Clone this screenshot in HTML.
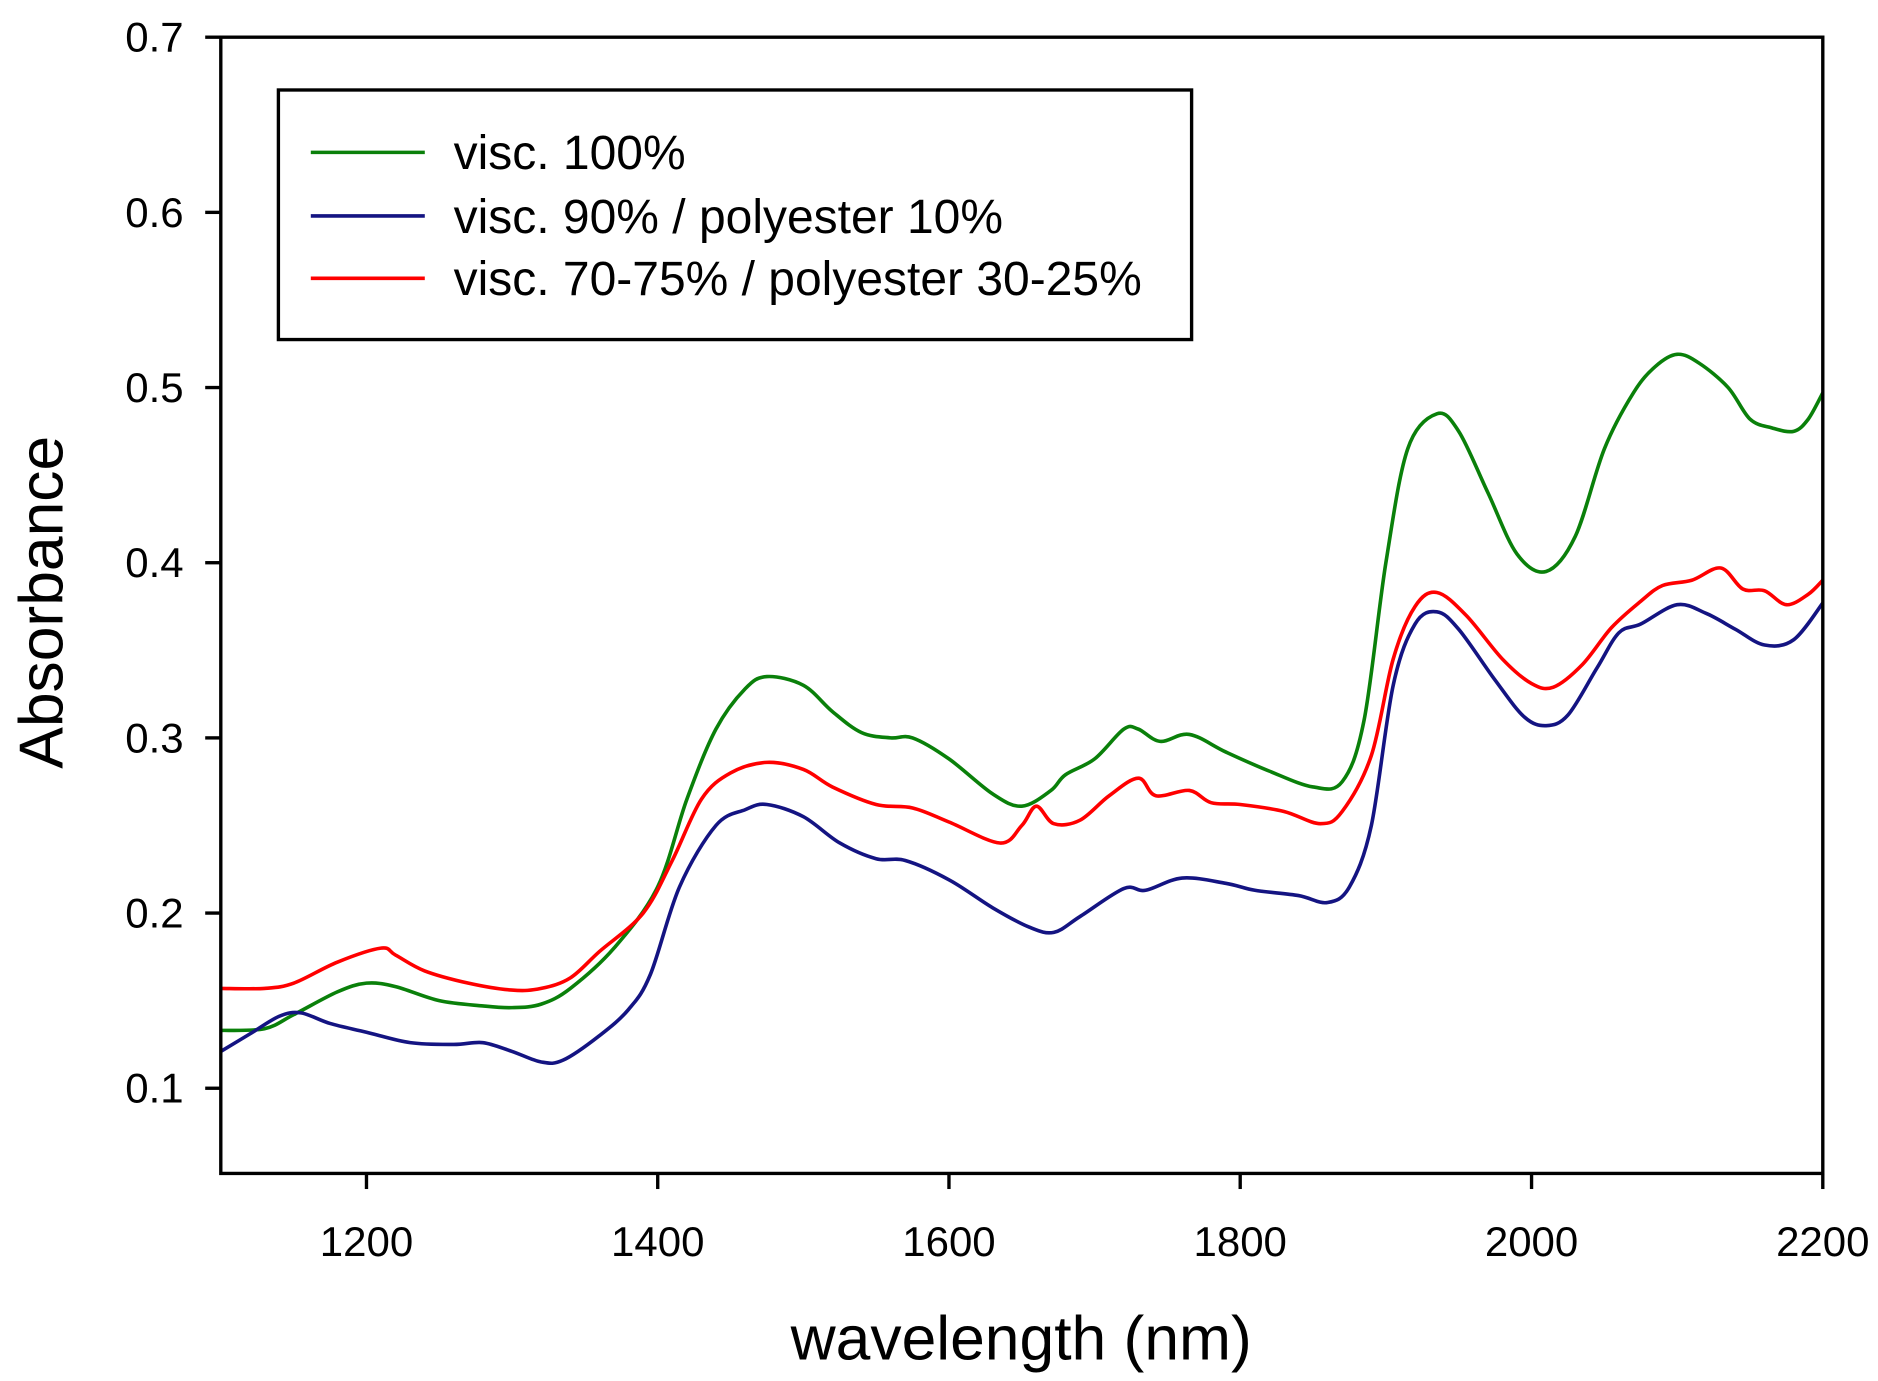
<!DOCTYPE html>
<html><head><meta charset="utf-8"><style>
html,body{margin:0;padding:0;background:#fff;}
svg{display:block;}
text{font-family:"Liberation Sans",Arial,sans-serif;fill:#000;}
</style></head><body>
<svg id="s" width="1878" height="1381" viewBox="0 0 1565 1151" preserveAspectRatio="none" xmlns="http://www.w3.org/2000/svg">
<rect x="0" y="0" width="1565" height="1151" fill="#fff"/>
<g id="curves" fill="none" stroke-width="3" stroke-linejoin="round"></g>
<rect x="184" y="31" width="1335" height="947" fill="none" stroke="#000" stroke-width="2.8"/>
<g stroke="#000" stroke-width="2.8">
<line x1="171" y1="31" x2="184" y2="31"/><line x1="171" y1="177" x2="184" y2="177"/>
<line x1="171" y1="323" x2="184" y2="323"/><line x1="171" y1="469" x2="184" y2="469"/>
<line x1="171" y1="615" x2="184" y2="615"/><line x1="171" y1="761" x2="184" y2="761"/>
<line x1="171" y1="907" x2="184" y2="907"/>
<line x1="305.4" y1="978" x2="305.4" y2="991"/><line x1="548.1" y1="978" x2="548.1" y2="991"/>
<line x1="790.8" y1="978" x2="790.8" y2="991"/><line x1="1033.5" y1="978" x2="1033.5" y2="991"/>
<line x1="1276.3" y1="978" x2="1276.3" y2="991"/><line x1="1519" y1="978" x2="1519" y2="991"/>
</g>
<g font-size="35" text-anchor="end">
<text x="153" y="43">0.7</text><text x="153" y="189">0.6</text><text x="153" y="335">0.5</text>
<text x="153" y="481">0.4</text><text x="153" y="627">0.3</text><text x="153" y="773">0.2</text>
<text x="153" y="919">0.1</text>
</g>
<g font-size="35" text-anchor="middle">
<text x="305.4" y="1047">1200</text><text x="548.1" y="1047">1400</text><text x="790.8" y="1047">1600</text>
<text x="1033.5" y="1047">1800</text><text x="1276.3" y="1047">2000</text><text x="1519" y="1047">2200</text>
</g>
<text x="851" y="1133" font-size="52" text-anchor="middle">wavelength (nm)</text>
<text transform="translate(52,502) rotate(-90)" font-size="52" text-anchor="middle">Absorbance</text>
<rect x="232" y="75" width="761" height="208" fill="#fff" stroke="#000" stroke-width="2.8"/>
<line x1="259" y1="127" x2="354" y2="127" stroke="#0a800a" stroke-width="3"/>
<line x1="259" y1="180" x2="354" y2="180" stroke="#141482" stroke-width="3"/>
<line x1="259" y1="232" x2="354" y2="232" stroke="#ff0000" stroke-width="3"/>
<g font-size="40">
<text x="378" y="141">visc. 100%</text>
<text x="378" y="194">visc. 90% / polyester 10%</text>
<text x="378" y="246">visc. 70-75% / polyester 30-25%</text>
</g>
</svg>
<script>
function X(n){return 184+(n-1100)*1335/1100;}
function Y(a){return 907-(a-0.1)*1460;}
var G=[1100,.133,1130,.134,1150,.142,1180,.155,1200,.160,1220,.158,1250,.150,1280,.147,1300,.146,1320,.148,1340,.157,1370,.180,1400,.215,1420,.265,1440,.305,1460,.328,1475,.335,1500,.330,1520,.315,1540,.303,1560,.300,1575,.300,1600,.288,1630,.268,1650,.261,1670,.270,1680,.279,1700,.288,1720,.305,1730,.305,1745,.298,1765,.302,1790,.292,1820,.281,1850,.272,1870,.275,1885,.31,1900,.40,1915,.465,1935,.485,1950,.475,1970,.44,1990,.405,2010,.395,2030,.415,2050,.465,2070,.497,2085,.512,2100,.519,2115,.514,2135,.500,2150,.482,2165,.477,2180,.475,2190,.482,2200,.497];
var R=[1100,.157,1130,.157,1150,.160,1180,.172,1210,.180,1220,.176,1240,.167,1270,.160,1300,.156,1320,.157,1340,.163,1360,.178,1390,.200,1410,.230,1430,.265,1450,.280,1475,.286,1500,.282,1520,.272,1550,.262,1575,.260,1600,.252,1635,.240,1650,.250,1660,.261,1672,.251,1690,.253,1710,.267,1730,.277,1742,.267,1765,.270,1780,.263,1800,.262,1830,.258,1855,.251,1870,.258,1890,.29,1905,.345,1920,.375,1935,.383,1955,.370,1980,.345,2000,.331,2015,.329,2035,.342,2055,.363,2075,.378,2090,.387,2110,.390,2130,.397,2145,.385,2160,.384,2175,.376,2190,.382,2200,.390];
var B=[1100,.121,1120,.131,1140,.141,1155,.143,1175,.137,1200,.132,1230,.126,1260,.125,1280,.126,1300,.121,1320,.115,1335,.116,1360,.130,1380,.145,1395,.165,1415,.215,1440,.250,1460,.259,1475,.262,1500,.255,1525,.240,1550,.231,1570,.230,1600,.219,1630,.203,1655,.192,1672,.189,1690,.198,1720,.214,1735,.213,1760,.220,1790,.217,1810,.213,1840,.210,1860,.206,1875,.215,1890,.250,1905,.330,1920,.365,1935,.372,1950,.362,1975,.333,1995,.312,2010,.307,2025,.313,2045,.340,2060,.360,2075,.365,2100,.376,2120,.371,2140,.362,2160,.353,2180,.356,2200,.377];
function path(d){var p=[];for(var i=0;i<d.length;i+=2)p.push([X(d[i]),Y(d[i+1])]);
var s="M"+p[0][0].toFixed(1)+","+p[0][1].toFixed(1);
for(var i=0;i<p.length-1;i++){var p0=p[Math.max(i-1,0)],p1=p[i],p2=p[i+1],p3=p[Math.min(i+2,p.length-1)];
var c1x=p1[0]+(p2[0]-p0[0])/6,c1y=p1[1]+(p2[1]-p0[1])/6,c2x=p2[0]-(p3[0]-p1[0])/6,c2y=p2[1]-(p3[1]-p1[1])/6;
s+=" C"+c1x.toFixed(1)+","+c1y.toFixed(1)+" "+c2x.toFixed(1)+","+c2y.toFixed(1)+" "+p2[0].toFixed(1)+","+p2[1].toFixed(1);}
return s;}
var g=document.getElementById("curves"),ns="http://www.w3.org/2000/svg";
[[G,"#0a800a"],[B,"#141482"],[R,"#ff0000"]].forEach(function(c){var e=document.createElementNS(ns,"path");e.setAttribute("d",path(c[0]));e.setAttribute("stroke",c[1]);g.appendChild(e);});
</script>
</body></html>
